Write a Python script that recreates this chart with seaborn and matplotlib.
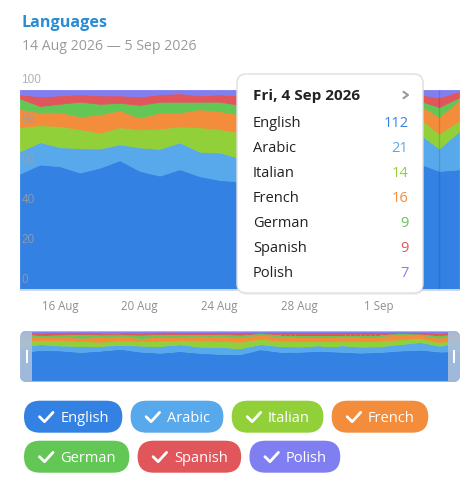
import matplotlib

matplotlib.use('Agg')

import matplotlib.pyplot as plt
from matplotlib.patches import FancyBboxPatch, Rectangle
import seaborn as sns
import pandas as pd
import numpy as np

# daily message counts per language, 14 Aug - 5 Sep 2026
dates = pd.date_range('2026-08-14', '2026-09-05')
languages = ['English', 'Arabic', 'Italian', 'French', 'German', 'Spanish', 'Polish']
colors = ['#3381e3', '#58a8ec', '#92d03a', '#f38c3b', '#63c756', '#e1565a', '#807ff2']

english = [110, 118, 117, 111, 115, 122, 112, 107, 113, 107, 104, 102, 121, 111, 112, 115, 112, 108, 111, 117, 119, 112, 114]
arabic = [21, 21, 18, 23, 18, 15, 22, 25, 25, 23, 26, 22, 19, 21, 19, 21, 24, 22, 21, 24, 28, 21, 36]
italian = [23, 16, 20, 18, 15, 16, 17, 19, 15, 23, 22, 24, 20, 20, 21, 16, 16, 21, 20, 18, 15, 14, 10]
french = [17, 12, 13, 12, 17, 16, 11, 15, 13, 17, 17, 17, 15, 16, 15, 15, 16, 17, 17, 18, 12, 16, 19]
german = [10, 6, 8, 14, 10, 7, 12, 10, 10, 7, 9, 9, 6, 8, 10, 10, 9, 8, 8, 5, 4, 9, 3]
spanish = [4, 9, 8, 7, 8, 7, 8, 7, 8, 6, 7, 9, 5, 8, 8, 8, 8, 8, 8, 5, 6, 9, 6]
polish = [4, 6, 5, 4, 5, 5, 6, 4, 3, 5, 4, 5, 3, 4, 4, 4, 4, 4, 4, 3, 4, 7, 1]

y_ticks = [0, 20, 40, 60, 80, 100]
hover_day = pd.Timestamp('2026-09-04')

sns.set_theme(style='white')
plt.rcParams['font.family'] = ['Open Sans', 'DejaVu Sans']

df = pd.DataFrame(dict(zip(languages, [english, arabic, italian, french, german, spanish, polish])), index=dates)
shares = df.div(df.sum(axis=1), axis=0) * 100
x = np.arange(len(dates))

W, H = 477, 486


def box(l, t, r, b):
    return [l / W, 1 - b / H, (r - l) / W, (b - t) / H]


fig = plt.figure(figsize=(W / 100, H / 100), dpi=100)

# main stacked percentage chart
ax = fig.add_axes(box(20, 90, 459, 290))
ax.stackplot(x, shares.T.values, colors=colors, linewidth=0.6, edgecolor='face')
ax.set_xlim(0, len(x) - 1)
ax.set_ylim(0, 100)
tick_idx = x[2:19:4]
ax.set_xticks(tick_idx)
ax.set_xticklabels([f'{dates[i].day} {dates[i]:%b}' for i in tick_idx], fontsize=8.3, color='#8f8f8f')
ax.tick_params(axis='x', length=0, pad=7)
ax.set_yticks([])
sns.despine(ax=ax, left=True)
ax.spines['bottom'].set_color('#e6e6e6')
for v in y_ticks:
    ax.annotate(str(v), xy=(0, v), xycoords=('axes fraction', 'data'), xytext=(1, 3),
                textcoords='offset points', va='bottom', ha='left', fontsize=8.5,
                family='Liberation Sans', color='#9aa0a6', alpha=0.8, annotation_clip=False)

hi = list(dates).index(hover_day)
ax.axvline(hi, color='black', alpha=0.12, lw=1)

# navigator
mini = fig.add_axes(box(20, 331, 460, 382))
mini.stackplot(x, shares.T.values, colors=colors, linewidth=0.4, edgecolor='face')
mini.set_xlim(0, len(x) - 1)
mini.set_ylim(0, 100)
mini.axis('off')

# overlay in pixel coordinates
ov = fig.add_axes([0, 0, 1, 1])
ov.set_xlim(0, W)
ov.set_ylim(H, 0)
ov.axis('off')

ov.text(22, 26.7, 'Languages', fontsize=11.6, fontweight='bold', color='#2a8dd4', va='baseline')
ov.text(22, 50, f'{dates[0].day} {dates[0]:%b %Y} \u2014 {dates[-1].day} {dates[-1]:%b %Y}',
        fontsize=10.2, color='#9a9a9a', va='baseline')

frame = FancyBboxPatch((20, 331), 440, 51, boxstyle='round,pad=0,rounding_size=7', transform=ov.transData)
for coll in mini.collections:
    coll.set_clip_path(frame)
handle_c = '#a9bfdb'
for r in [Rectangle((20, 331), 12, 51), Rectangle((448, 331), 12, 51),
          Rectangle((32, 331), 416, 1.2), Rectangle((32, 380.8), 416, 1.2)]:
    r.set_facecolor(handle_c)
    r.set_alpha(0.92)
    r.set_linewidth(0)
    ov.add_patch(r)
    r.set_clip_path(frame)
for bx in [25.6, 453.2]:
    ov.add_patch(Rectangle((bx, 350), 2, 12.5, fc='white', lw=0))

# tooltip
ov.add_patch(FancyBboxPatch((238, 76), 186, 219, boxstyle='round,pad=0,rounding_size=9',
                            fc='black', alpha=0.05, lw=0))
ov.add_patch(FancyBboxPatch((237, 74), 186, 219, boxstyle='round,pad=0,rounding_size=9',
                            fc='white', ec='#dedede', lw=1))
ov.text(253, 100, f'{hover_day:%a}, {hover_day.day} {hover_day:%b %Y}', fontsize=11,
        fontweight='bold', color='#222222', va='baseline')
ov.plot([403.5, 408, 403.5], [91.8, 95, 98.2], color='#9a9a9a', lw=1.5,
        solid_capstyle='round', solid_joinstyle='round')
for k, (name, color) in enumerate(zip(languages, colors)):
    yb = 127.3 + 25 * k
    ov.text(253, yb, name, fontsize=10.5, color='#222222', va='baseline')
    ov.text(408.5, yb, str(df.loc[hover_day, name]), fontsize=10.5, color=color, va='baseline', ha='right')

# legend chips
renderer = fig.canvas.get_renderer()
cx, cy = 24, 416.7
for name, color in zip(languages, colors):
    t = ov.text(0, 0, name, fontsize=10.5, color='white', va='baseline', ha='left')
    tw = t.get_window_extent(renderer).width
    w = 36.3 + tw + 13.5
    if cx + w > 460:
        cx = 24
        cy += 40
    t.set_position((cx + 36.3, cy + 5.6))
    ov.add_patch(FancyBboxPatch((cx, cy - 16), w, 32, boxstyle='round,pad=0,rounding_size=16',
                                fc=color, lw=0))
    ov.plot([cx + 15.5, cx + 20.5, cx + 29], [cy, cy + 5, cy - 4.3], color='white', lw=2,
            solid_capstyle='round', solid_joinstyle='round')
    cx += w + 8.3

fig.savefig('out.png', dpi=100)
